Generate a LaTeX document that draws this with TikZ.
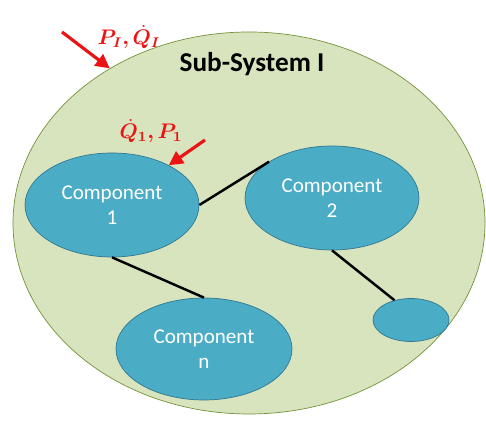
\documentclass[tikz,border=0pt]{standalone}
\usepackage{xcolor}
\usepackage{amsmath}
\usepackage{bm}
\usepackage{fontspec}
\setmainfont{Carlito}
\usepackage{tikz}
\usetikzlibrary{arrows.meta}
\usetikzlibrary{shapes.geometric}

\definecolor{subfill}{RGB}{215,228,189}
\definecolor{subline}{RGB}{118,146,60}
\definecolor{compfill}{RGB}{75,172,198}
\definecolor{compline}{RGB}{49,120,145}
\definecolor{flowred}{RGB}{235,20,20}

\begin{document}
\begin{tikzpicture}[
    font=\fontsize{12}{14.5}\selectfont,
    sub/.style={
        ellipse,
        draw=subline,
        fill=subfill,
        minimum width=9.44cm,
        minimum height=7.64cm
    },
    comp/.style={
        ellipse,
        draw=compline,
        fill=compfill,
        text=white,
        align=center,
        minimum width=3.48cm,
        minimum height=2.08cm
    },
    link/.style={
        line width=1.4pt
    },
    flow/.style={
        -{Triangle[length=8pt,width=8pt]},
        line width=1.8pt,
        draw=flowred
    },
    lbl/.style={
        text=flowred,
        font=\large,
        inner sep=1pt
    }
]
\useasboundingbox (0,0) rectangle (9.72,-8.5);

% Sub-system
\node[sub] (sys) at (4.98,-4.46) {};
\node[font=\fontsize{15.5}{18}\selectfont\bfseries] (title)
    at (5.04,-1.28) {Sub-System I};

% Components
\node[comp] (c1) at (2.24,-4.10) {Component\\1};
\node[comp] (c2) at (6.64,-3.96) {Component\\2};
\node[comp, minimum width=3.52cm, minimum height=2.04cm] (cn)
    at (4.08,-6.98) {Component\\n};
\node[comp, minimum width=1.52cm, minimum height=0.86cm] (cx)
    at (8.22,-6.40) {};

% Links
\draw[link] (c1.east) -- (c2.150);
\draw[link] (c1.south) -- (cn.north);
\draw[link] (c2.south) -- (cx.130);

% Flows in
\coordinate (in1) at (1.24,-0.64);
\draw[flow] (in1) -- (sys.132);
\node[lbl] (pin) at (2.58,-0.74) {$\bm{P_I,\dot{Q}_I}$};

\coordinate (in2) at (4.10,-2.80);
\draw[flow] (in2) -- (c1.35);
\node[lbl] (qin) at (3.02,-2.62) {$\bm{\dot{Q}_1,P_1}$};

\end{tikzpicture}
\end{document}
